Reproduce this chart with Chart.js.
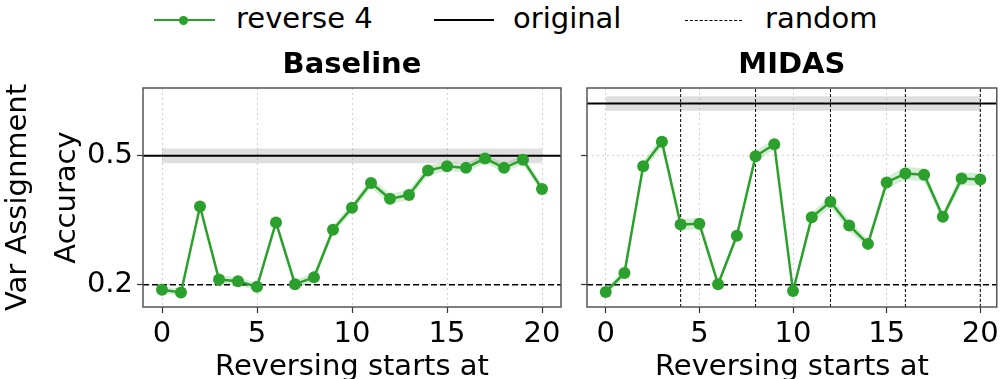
<!DOCTYPE html>
<html>
<head>
<meta charset="utf-8">
<script src="https://cdn.jsdelivr.net/npm/chart.js@4.4.0/dist/chart.umd.min.js"></script>
<style>
body { margin: 0; width: 1003px; height: 379px; overflow: hidden; background: #fff; position: relative; font-family: "DejaVu Sans"; }
#c1 { position: absolute; left: -10px; top: 0; }
#c2 { position: absolute; left: 580px; top: 0; }
.leg { position: absolute; top: 4px; font-size: 29px; line-height: 29px; color: #000; white-space: nowrap; }
.ln { position: absolute; height: 0; }
</style>
</head>
<body>
<div class="ln" style="left:154px;top:19px;width:61px;border-top:2.5px solid #2ca02c"></div>
<div style="position:absolute;left:179px;top:16px;width:9px;height:9px;border-radius:50%;background:#2ca02c"></div>
<div class="leg" style="left:236px">reverse 4</div>
<div class="ln" style="left:434px;top:19px;width:60px;border-top:2px solid #000"></div>
<div class="leg" style="left:513px">original</div>
<div class="ln" style="left:685px;top:20px;width:57px;border-top:1px dashed #000"></div>
<div class="leg" style="left:765px">random</div>

<canvas id="c1" width="590" height="379"></canvas>
<canvas id="c2" width="423" height="379"></canvas>

<script>
var steps = [0, 1, 2, 3, 4, 5, 6, 7, 8, 9, 10, 11, 12, 13, 14, 15, 16, 17, 18, 19, 20];
var baseAcc = [0.188, 0.182, 0.382, 0.212, 0.208, 0.195, 0.345, 0.201, 0.217, 0.328, 0.379,
               0.437, 0.400, 0.409, 0.466, 0.476, 0.472, 0.494, 0.472, 0.491, 0.423];
var baseErr = [0.008, 0.008, 0.008, 0.010, 0.009, 0.009, 0.008, 0.010, 0.010, 0.010, 0.010,
               0.012, 0.012, 0.012, 0.012, 0.011, 0.010, 0.011, 0.010, 0.011, 0.010];
var midasAcc = [0.183, 0.227, 0.476, 0.533, 0.340, 0.342, 0.201, 0.314, 0.499, 0.527, 0.185,
                0.357, 0.393, 0.338, 0.295, 0.438, 0.459, 0.456, 0.358, 0.447, 0.445];
var midasErr = [0.008, 0.010, 0.012, 0.013, 0.013, 0.013, 0.008, 0.010, 0.012, 0.012, 0.008,
                0.012, 0.013, 0.013, 0.010, 0.013, 0.015, 0.015, 0.010, 0.015, 0.015];
var origAcc = [0.5, 0.622];
var origErr = [0.017, 0.017];
var randomAcc = 0.2;
var midasMarks = [4, 8, 12, 16, 20];
var xTicks = [0, 5, 10, 15, 20];
var yTicks = [0.2, 0.5];
var yMin = 0.148, yMax = 0.658;

var green = '#2ca02c';
var font = 'DejaVu Sans';

function pts(vals) {
    return vals.map(function (v, i) { return { x: steps[i], y: v }; });
}

// box round the plot area, like matplotlib spines
var frame = {
    id: 'frame',
    afterDatasetsDraw: function (chart) {
        var a = chart.chartArea, ctx = chart.ctx;
        ctx.save();
        ctx.strokeStyle = '#555';
        ctx.lineWidth = 1.5;
        ctx.strokeRect(a.left, a.top, a.right - a.left, a.bottom - a.top);
        ctx.restore();
    }
};

function makeChart(id, title, acc, err, orig, oerr, marks, first) {
    var ds = [];
    ds.push({ data: pts(acc), borderColor: green, backgroundColor: green, borderWidth: 2.5,
        pointRadius: 6, pointHoverRadius: 6, pointBorderWidth: 0, tension: 0, order: 0 });
    ds.push({ data: pts(acc.map(function (v, i) { return v + err[i]; })), fill: '+1',
        backgroundColor: 'rgba(44,160,44,0.2)', borderWidth: 0, pointRadius: 0, order: 6 });
    ds.push({ data: pts(acc.map(function (v, i) { return v - err[i]; })), fill: false,
        borderWidth: 0, pointRadius: 0, order: 6 });
    // original: line plus grey band
    ds.push({ data: [{ x: -1, y: orig }, { x: 21, y: orig }], borderColor: '#000', borderWidth: 2,
        pointRadius: 0, order: 1 });
    ds.push({ data: [{ x: 0, y: orig + oerr }, { x: 20, y: orig + oerr }], fill: '+1',
        backgroundColor: 'rgba(128,128,128,0.25)', borderWidth: 0, pointRadius: 0, order: 5 });
    ds.push({ data: [{ x: 0, y: orig - oerr }, { x: 20, y: orig - oerr }], fill: false,
        borderWidth: 0, pointRadius: 0, order: 5 });
    // random
    ds.push({ data: [{ x: -1, y: randomAcc }, { x: 21, y: randomAcc }], borderColor: '#000',
        borderWidth: 1.5, borderDash: [6, 3], pointRadius: 0, order: 1 });
    marks.forEach(function (m) {
        ds.push({ data: [{ x: m, y: yMin }, { x: m, y: yMax }], borderColor: '#000', borderWidth: 1,
            borderDash: [3, 2], pointRadius: 0, order: 2 });
    });

    return new Chart(document.getElementById(id), {
        type: 'line',
        data: { datasets: ds },
        options: {
            responsive: false,
            animation: false,
            events: [],
            layout: { padding: { top: 40, right: first ? 19 : 1, bottom: 0, left: 0 } },
            plugins: {
                legend: { display: false },
                tooltip: { enabled: false },
                title: { display: true, text: title, color: '#000', fullSize: false,
                    font: { family: font, size: 29, weight: 'bold', lineHeight: 1 },
                    padding: { top: 10.5, bottom: 8.5 } }
            },
            scales: {
                x: {
                    type: 'linear', min: -1, max: first ? 21 : 20.88,
                    afterBuildTicks: function (s) { s.ticks = xTicks.map(function (v) { return { value: v }; }); },
                    afterFit: function (s) { s.height = 72; },
                    grid: { color: '#d0d0d0', lineWidth: 1, tickLength: 6, tickColor: '#333', tickWidth: 1.2 },
                    border: { display: false, dash: [2, 3] },
                    ticks: { color: '#000', font: { family: font, size: 29 }, padding: 4, maxRotation: 0, autoSkip: false },
                    title: { display: true, text: 'Reversing starts at', color: '#000',
                        font: { family: font, size: 29, lineHeight: 0.8 }, padding: 0 }
                },
                y: {
                    min: yMin, max: yMax,
                    afterBuildTicks: function (s) { s.ticks = yTicks.map(function (v) { return { value: v }; }); },
                    afterFit: function (s) { s.width = first ? 153 : 7; },
                    grid: { color: '#d0d0d0', lineWidth: 1, tickLength: 6, tickColor: '#333', tickWidth: 1.2 },
                    border: { display: false, dash: [2, 3] },
                    ticks: { display: first, color: '#000', font: { family: font, size: 29 }, padding: 4,
                        callback: function (v) { return v.toFixed(1); } },
                    title: { display: first, text: ['Var Assignment', 'Accuracy'], color: '#000',
                        font: { family: font, size: 29, lineHeight: 49 / 29 }, padding: { top: 3.5, bottom: 0 } }
                }
            }
        },
        plugins: [frame]
    });
}

makeChart('c1', 'Baseline', baseAcc, baseErr, origAcc[0], origErr[0], [], true);
makeChart('c2', 'MIDAS', midasAcc, midasErr, origAcc[1], origErr[1], midasMarks, false);
</script>
</body>
</html>
